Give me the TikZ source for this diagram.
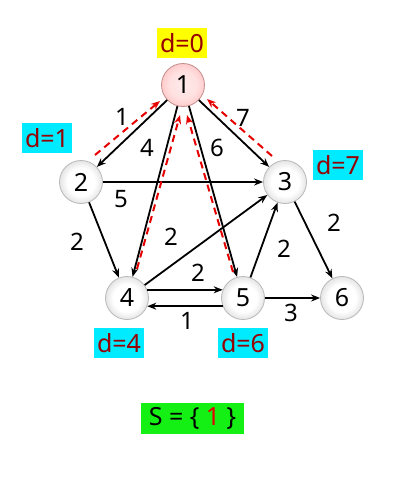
\documentclass[tikz,border=0pt]{standalone}
\usepackage{fontspec}
\setmainfont{Noto Sans}
\usetikzlibrary{arrows.meta,calc}
\definecolor{dred}{RGB}{150,0,0}
\definecolor{aqua}{RGB}{0,235,255}
\definecolor{ylw}{RGB}{255,255,0}
\definecolor{grn}{RGB}{20,240,20}
\definecolor{dashred}{RGB}{230,0,0}
\pgfdeclareradialshading{ballgray}{\pgfpoint{0bp}{0bp}}{color(0bp)=(white); color(16bp)=(white); color(30bp)=(black!16); color(50bp)=(black!35)}
\pgfdeclareradialshading{ballpink}{\pgfpoint{0bp}{0bp}}{color(0bp)=(red!8); color(16bp)=(red!12); color(30bp)=(red!25); color(50bp)=(red!45)}
\tikzset{
  vert/.style={circle,minimum size=43pt,inner sep=0pt,draw=black!28,line width=0.8pt,
    shading=ballgray,font=\fontsize{25}{25}\selectfont},
  startvert/.style={vert,draw=red!45!black!45,shading=ballpink},
  edge/.style={line width=1.8pt,-{Stealth[length=9pt,width=7pt]}},
  back/.style={dashred,line width=2pt,dash pattern=on 7pt off 5pt,-{Stealth[length=9pt,width=7pt]}},
  wlab/.style={font=\fontsize{24}{24}\selectfont,inner sep=0pt},
  dlab/.style={fill=aqua,text=dred,minimum width=50pt,minimum height=30pt,inner sep=0pt,
    font=\fontsize{25}{25}\selectfont}
}
\begin{document}
\begin{tikzpicture}[x=1pt,y=-1pt]
\useasboundingbox (0,0) rectangle (413,477);
\node[startvert] (n1) at (183,85) {1};
\node[vert] (n2) at (81,182) {2};
\node[vert] (n3) at (285,182) {3};
\node[vert] (n4) at (127,298) {4};
\node[vert] (n5) at (243,298) {5};
\node[vert] (n6) at (342,298) {6};
% black edges
\draw[edge] (n1) -- (n2);
\draw[edge] (n1) -- (n3);
\draw[edge] (n1) -- (n4);
\draw[edge] (n1) -- (n5);
\draw[edge] (n2) -- (n3);
\draw[edge] (n2) -- (n4);
\draw[edge] (n4) -- (n3);
\draw[edge] (n4.22) -- (n5.158);
\draw[edge] (n5.-158) -- (n4.-22);
\draw[edge] (n5) -- (n3);
\draw[edge] (n5) -- (n6);
\draw[edge] (n3) -- (n6);
% red dashed predecessor arrows
\coordinate (r2a) at ($(n2)+(14,-27)$);
\coordinate (r2b) at ($(n1)+(-23,16)$);
\coordinate (r3a) at ($(n3)+(-13,-26)$);
\coordinate (r3b) at ($(n1)+(24,14)$);
\coordinate (r4a) at ($(n4)+(10,-29)$);
\coordinate (r4b) at ($(n1)+(-3,30)$);
\coordinate (r5a) at ($(n5)+(-10,-26)$);
\coordinate (r5b) at ($(n1)+(4,30)$);
\draw[back] (r2a) -- (r2b);
\draw[back] (r3a) -- (r3b);
\draw[back] (r4a) -- (r4b);
\draw[back] (r5a) -- (r5b);
% weights
\node[wlab] (w12) at (122,117) {1};
\node[wlab] (w13) at (243,118) {7};
\node[wlab] (w14) at (147,148) {4};
\node[wlab] (w15) at (217,148) {6};
\node[wlab] (w23) at (121,199) {5};
\node[wlab] (w24) at (77,242) {2};
\node[wlab] (w43) at (171,237) {2};
\node[wlab] (w45) at (198,273) {2};
\node[wlab] (w54) at (187,321) {1};
\node[wlab] (w53) at (284,249) {2};
\node[wlab] (w56) at (291,313) {3};
\node[wlab] (w36) at (334,223) {2};
% distance labels
\node[dlab,fill=ylw] (d1) at (182,43) {d=0};
\node[dlab] (d2) at (47,138) {d=1};
\node[dlab] (d3) at (338,165) {d=7};
\node[dlab] (d4) at (119,343) {d=4};
\node[dlab] (d5) at (243,343) {d=6};
\node[fill=grn,minimum width=103pt,minimum height=31pt,inner sep=0pt,
  font=\fontsize{25}{25}\selectfont] (S) at (192.5,418.5) {S = \{ \textcolor{dashred}{1} \}};
\end{tikzpicture}
\end{document}
